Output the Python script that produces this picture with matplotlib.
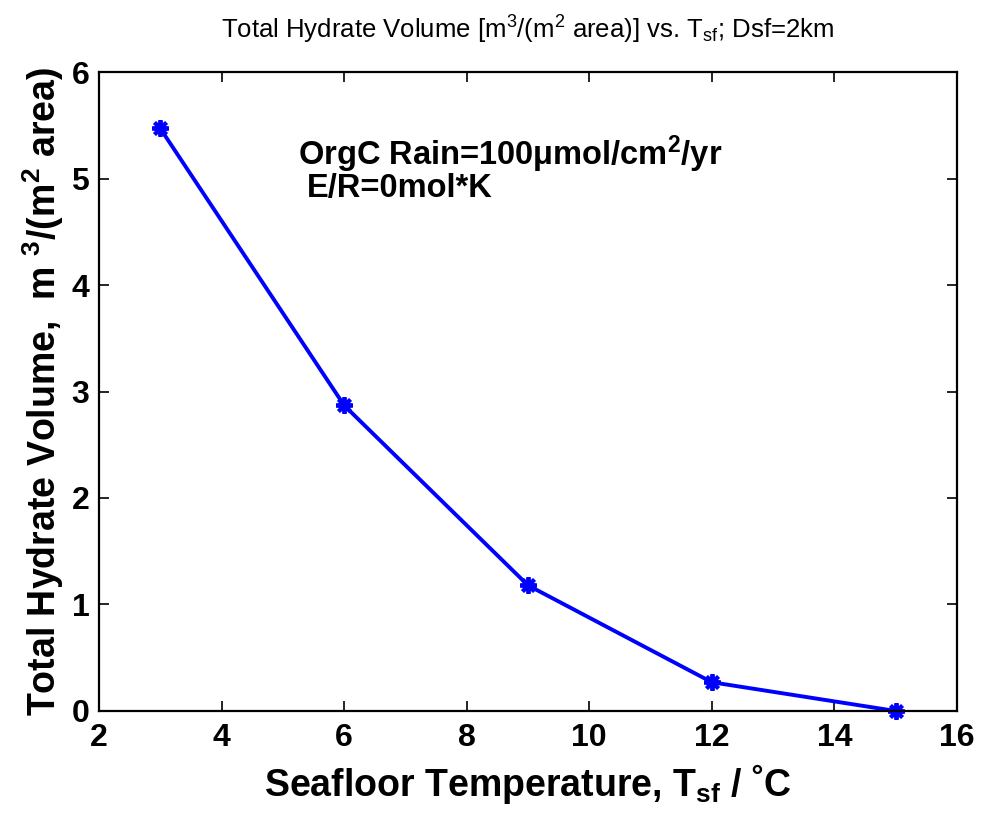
import matplotlib
matplotlib.use("Agg")
import matplotlib.pyplot as plt

# data
seafloor_temp = [3, 6, 9, 12, 15]
hydrate_volume = [5.47, 2.87, 1.18, 0.27, 0.0]

x_ticks = [2, 4, 6, 8, 10, 12, 14, 16]
y_ticks = [0, 1, 2, 3, 4, 5, 6]

plt.rcParams["font.family"] = ["Liberation Sans", "DejaVu Sans"]
plt.rcParams["mathtext.default"] = "regular"

fig = plt.figure(figsize=(9.81, 8.23), dpi=100)
ax = fig.add_axes([0.1009, 0.1361, 0.8746, 0.7764])

ax.plot(seafloor_temp, hydrate_volume, color="#0000ff", lw=2.8,
        marker=(8, 2, 0), markersize=12, markeredgewidth=2.8, clip_on=False)

ax.set_xlim(2, 16)
ax.set_ylim(0, 6)
ax.set_xticks(x_ticks)
ax.set_yticks(y_ticks)
ax.tick_params(direction="in", length=7, width=1.2, top=True, right=True,
               labelsize=23)
ax.tick_params(axis="x", pad=9)
ax.tick_params(axis="y", pad=7)
for lab in ax.get_xticklabels() + ax.get_yticklabels():
    lab.set_fontweight("bold")
for sp in ax.spines.values():
    sp.set_linewidth(1.6)

ax.set_xlabel("Seafloor Temperature, T$_{sf}$ / \u02daC", fontsize=27,
              fontweight="bold", labelpad=6)
ax.set_ylabel("Total Hydrate Volume,  m $^3$/(m$^2$ area)", fontsize=27,
              fontweight="bold", labelpad=4)
ax.set_title("Total Hydrate Volume [m$^3$/(m$^2$ area)] vs. T$_{sf}$; Dsf=2km",
             fontsize=18.5, pad=24)

ax.text(0.232, 0.854, "OrgC Rain=100\u03bcmol/cm$^2$/yr", transform=ax.transAxes,
        fontsize=23.5, fontweight="bold", ha="left", va="baseline")
ax.text(0.242, 0.804, "E/R=0mol*K", transform=ax.transAxes,
        fontsize=23.5, fontweight="bold", ha="left", va="baseline")

fig.savefig("out.png", dpi=100)
